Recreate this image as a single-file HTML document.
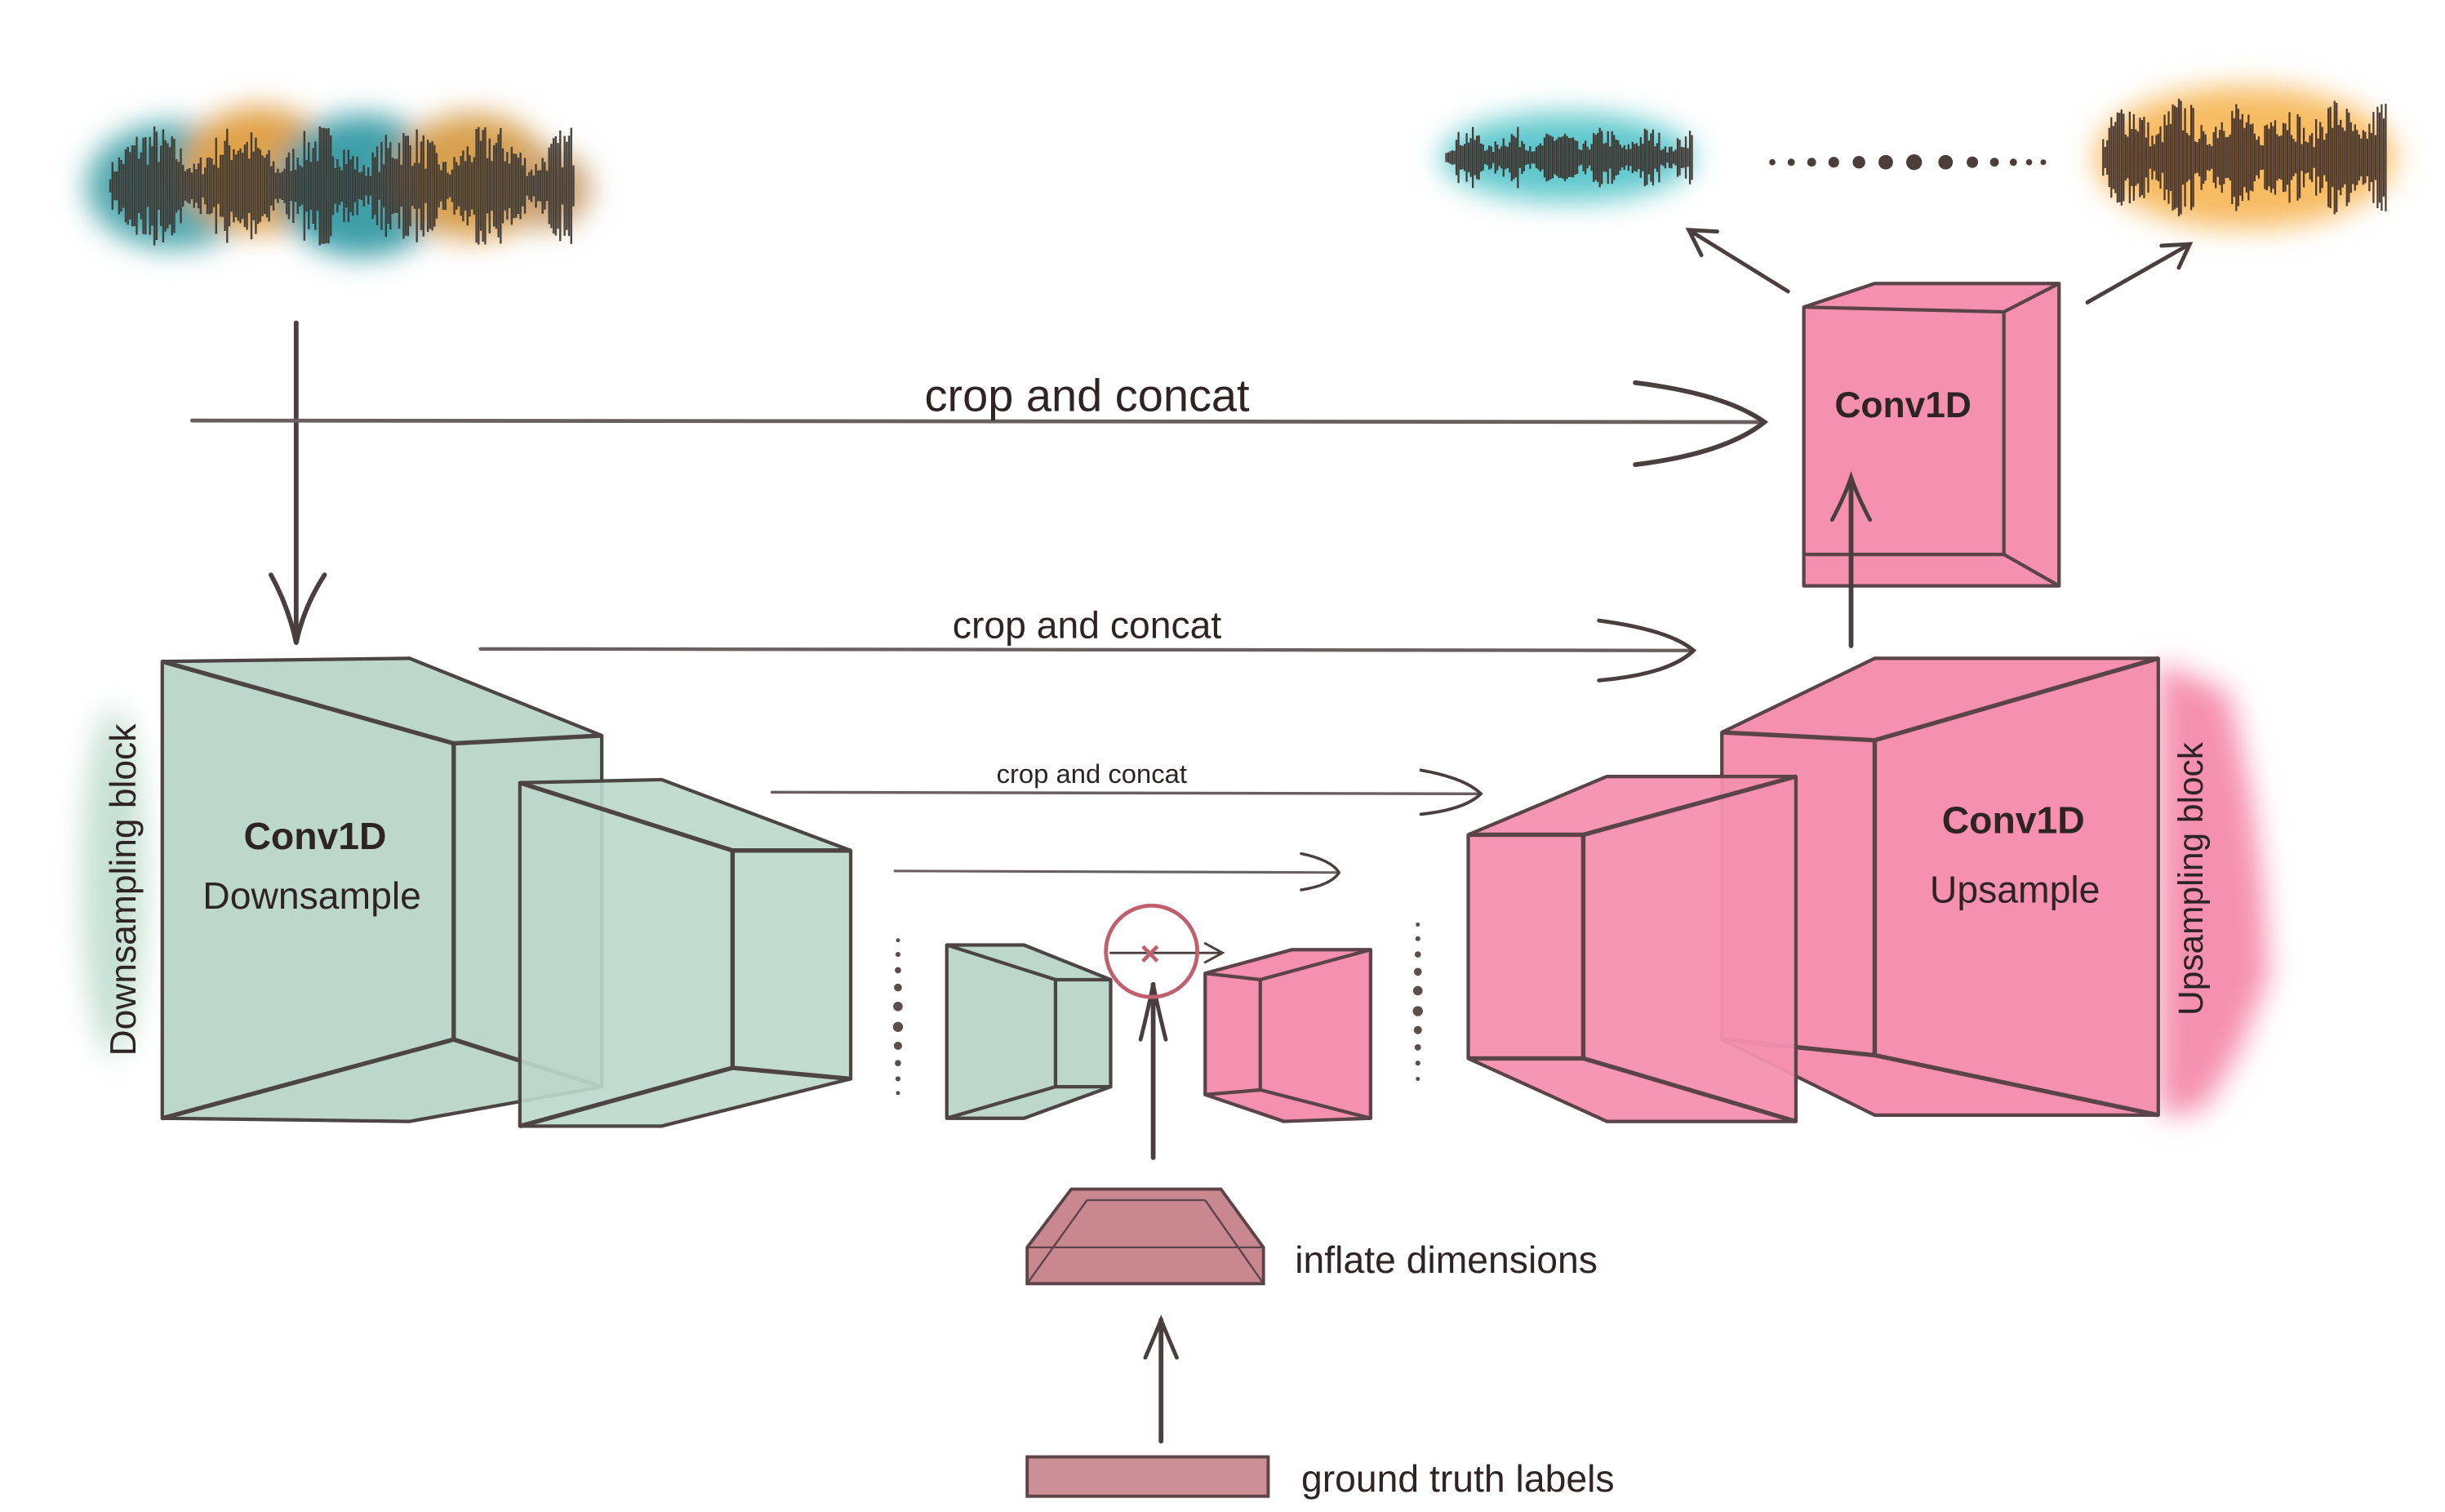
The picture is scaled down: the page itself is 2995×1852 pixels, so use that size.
<!DOCTYPE html>
<html><head><meta charset="utf-8"><style>
html,body{margin:0;padding:0;background:#fff;}
svg{display:block;}
text{font-family:"Liberation Sans",sans-serif;fill:#2e2424;}
</style></head><body>
<svg id="s" width="2995" height="1852" viewBox="0 0 1552 960" preserveAspectRatio="none" xmlns="http://www.w3.org/2000/svg">
<defs>
<filter id="b8" x="-30%" y="-50%" width="160%" height="200%"><feGaussianBlur stdDeviation="9"/></filter>
</defs>
<rect width="1552" height="960" fill="#fff"/>

<g filter="url(#b8)">
<ellipse cx="110" cy="118" rx="55" ry="40" fill="#4fa8ae"/>
<ellipse cx="165" cy="108" rx="50" ry="40" fill="#e0a24a"/>
<ellipse cx="230" cy="118" rx="55" ry="45" fill="#3d9fa8"/>
<ellipse cx="300" cy="112" rx="50" ry="40" fill="#d8a050"/>
<ellipse cx="345" cy="120" rx="30" ry="25" fill="#c9a070"/>
<ellipse cx="995" cy="100" rx="80" ry="28" fill="#5fc8cc"/>
<ellipse cx="1425" cy="100" rx="95" ry="45" fill="#f7bb62"/>
<path d="M1370 420 L1415 440 L1428 500 L1436 560 L1440 620 L1420 670 L1398 705 L1370 708Z" fill="#f590b0"/>
<ellipse cx="72" cy="560" rx="20" ry="110" fill="#c6e0d4"/>
</g>

<g id="waves" fill="none" stroke="#3a2a26" stroke-width="1.4" opacity="0.9"></g>

<g fill="#4a3d3a">
<circle cx="1125" cy="103" r="2"/><circle cx="1137" cy="103" r="2.3"/><circle cx="1150" cy="103" r="2.8"/><circle cx="1164" cy="103" r="3.4"/><circle cx="1180" cy="103" r="4"/><circle cx="1197" cy="103" r="4.6"/><circle cx="1215" cy="103" r="5"/><circle cx="1235" cy="103" r="4.6"/><circle cx="1252" cy="103" r="3.6"/><circle cx="1266" cy="103" r="2.8"/><circle cx="1278" cy="103" r="2.3"/><circle cx="1288" cy="103" r="2"/><circle cx="1297" cy="103" r="1.8"/>
</g>

<g fill="#5a4d4a">
<circle cx="570" cy="597" r="1.3"/><circle cx="570" cy="606" r="1.6"/><circle cx="570" cy="616" r="2"/><circle cx="570" cy="627" r="2.5"/><circle cx="570" cy="639" r="3"/><circle cx="570" cy="652" r="3.2"/><circle cx="570" cy="664" r="2.6"/><circle cx="570" cy="675" r="2"/><circle cx="570" cy="685" r="1.6"/><circle cx="570" cy="694" r="1.3"/>
<circle cx="900" cy="587" r="1.3"/><circle cx="900" cy="596" r="1.6"/><circle cx="900" cy="606" r="2"/><circle cx="900" cy="617" r="2.5"/><circle cx="900" cy="629" r="3"/><circle cx="900" cy="642" r="3.2"/><circle cx="900" cy="654" r="2.6"/><circle cx="900" cy="665" r="2"/><circle cx="900" cy="675" r="1.6"/><circle cx="900" cy="685" r="1.3"/>
</g>

<g stroke="#4d4444" stroke-width="2.2" fill="#bdd8cb" stroke-linejoin="round">
<path d="M103 420 L260 418 L382 467 L382 690 L260 712 L103 710Z"/>
<path d="M103 420 L288 472 L382 467 M288 472 L288 660 L382 690 M288 660 L103 710" fill="none" stroke-width="2.8"/>
<path d="M330 497 L420 495 L540 540 L540 685 L420 715 L330 715Z" fill-opacity="0.92"/>
<path d="M330 497 L465 540 L540 540 M465 540 L465 678 L540 685 M465 678 L330 715" fill="none" stroke-width="2.8"/>
<path d="M601 600 L650 600 L705 622 L705 690 L650 710 L601 710Z"/>
<path d="M601 600 L670 622 L705 622 M670 622 L670 690 L705 690 M670 690 L601 710" fill="none"/>
</g>
<g stroke="#5a4448" stroke-width="2.2" fill="#f590b0" stroke-linejoin="round">
<path d="M765 618 L820 603 L870 603 L870 710 L815 712 L765 695Z"/>
<path d="M870 603 L800 622 L765 618 M800 622 L800 692 L765 695 M800 692 L870 710" fill="none"/>
<path d="M1093 465 L1190 418 L1370 418 L1370 708 L1190 708 L1093 660Z"/>
<path d="M1370 418 L1190 470 L1093 465 M1190 470 L1190 670 L1093 660 M1190 670 L1370 708" fill="none" stroke-width="2.8"/>
<path d="M932 530 L1020 493 L1140 493 L1140 712 L1020 712 L932 672Z" fill-opacity="0.95"/>
<path d="M1140 493 L1005 530 L932 530 M1005 530 L1005 672 L932 672 M1005 672 L1140 712" fill="none" stroke-width="2.8"/>
<path d="M1145 195 L1190 180 L1307 180 L1307 372 L1145 372Z"/>
<path d="M1307 180 L1272 198 L1145 195 M1272 198 L1272 352 L1307 372 M1272 352 L1145 352" fill="none"/>
</g>
<g stroke="#5a4448" stroke-width="2" fill="#c98790">
<path d="M680 755 L775 755 L802 792 L802 815 L652 815 L652 792Z"/>
<path d="M690 762 L765 762 M652 792 L802 792 M652 815 L690 762 M802 815 L765 762" fill="none" stroke-width="1.2"/>
<rect x="652" y="925" width="153" height="25" fill="#cc8f97"/>
</g>

<g stroke="#4a3f3f" fill="none" stroke-linecap="round">
<line x1="188" y1="205" x2="188" y2="408" stroke-width="3"/>
<path d="M172 365 Q183 385 188 408 Q193 385 206 365" stroke-width="3"/>
<line x1="122" y1="267" x2="1120" y2="268" stroke-width="2.5" stroke="#6a5f5f"/>
<path d="M1038 243 Q1095 250 1120 268 Q1095 288 1038 295" stroke-width="3"/>
<line x1="305" y1="412" x2="1075" y2="413" stroke-width="2.2" stroke="#6a5f5f"/>
<path d="M1015 394 Q1060 400 1075 413 Q1060 428 1015 432" stroke-width="2.5"/>
<line x1="490" y1="503" x2="940" y2="504" stroke-width="1.8" stroke="#6a5f5f"/>
<path d="M902 489 Q930 494 940 504 Q930 514 902 517" stroke-width="2"/>
<line x1="568" y1="553" x2="850" y2="554" stroke-width="1.6" stroke="#6a5f5f"/>
<path d="M826 542 Q845 546 850 554 Q845 562 826 565" stroke-width="1.8"/>
<line x1="1175" y1="410" x2="1175" y2="305" stroke-width="3"/>
<path d="M1163 330 Q1171 315 1175 303 Q1179 315 1187 330" stroke-width="2.5"/>
<line x1="1135" y1="185" x2="1072" y2="146" stroke-width="2.5"/>
<path d="M1090 147 L1072 146 L1080 162" stroke-width="2.5"/>
<line x1="1325" y1="192" x2="1390" y2="155" stroke-width="2.5"/>
<path d="M1372 156 L1390 155 L1383 170" stroke-width="2.5"/>
<line x1="732" y1="735" x2="732" y2="625" stroke-width="3"/>
<path d="M724 660 Q729 640 732 625 Q735 640 740 660" stroke-width="2.5"/>
<line x1="737" y1="915" x2="737" y2="838" stroke-width="3"/>
<path d="M727 862 Q733 848 737 838 Q741 848 747 862" stroke-width="2.5"/>
<line x1="705" y1="605" x2="775" y2="605" stroke-width="1.5"/>
<path d="M765 599 L776 605 L765 611" stroke-width="1.5"/>
</g>
<circle cx="731" cy="604" r="29" stroke="#c0606e" stroke-width="2.5" fill="none"/>
<text x="730" y="613" font-size="22" text-anchor="middle" style="fill:#c0606e" font-weight="bold">×</text>

<text x="690" y="261" font-size="29" text-anchor="middle">crop and concat</text>
<text x="690" y="405" font-size="24" text-anchor="middle">crop and concat</text>
<text x="693" y="497" font-size="17" text-anchor="middle">crop and concat</text>
<text x="200" y="539" font-size="24" font-weight="bold" text-anchor="middle">Conv1D</text>
<text x="198" y="577" font-size="24" text-anchor="middle">Downsample</text>
<text x="1278" y="529" font-size="24" font-weight="bold" text-anchor="middle">Conv1D</text>
<text x="1279" y="573" font-size="24" text-anchor="middle">Upsample</text>
<text x="1208" y="265" font-size="23" font-weight="bold" text-anchor="middle">Conv1D</text>
<text transform="translate(86 565) rotate(-90)" font-size="23" text-anchor="middle">Downsampling block</text>
<text transform="translate(1398 558) rotate(-90)" font-size="22" text-anchor="middle">Upsampling block</text>
<text x="822" y="808" font-size="24">inflate dimensions</text>
<text x="826" y="947" font-size="24">ground truth labels</text>
</svg>
<script>
(function(){
var g=document.getElementById('waves');var seed=7;
function r(){seed=(seed*16807)%2147483647;return seed/2147483647;}
function wave(x0,x1,cy,amp,col,step){
 var d='';for(var x=x0;x<=x1;x+=step){
  var env=0.35+0.65*Math.abs(Math.sin((x-x0)/(x1-x0)*Math.PI*5.5));
  var h=amp*env*(0.3+0.7*r());d+='M'+x.toFixed(1)+' '+(cy-h).toFixed(1)+'V'+(cy+h).toFixed(1);}
 var p=document.createElementNS('http://www.w3.org/2000/svg','path');
 p.setAttribute('d',d);p.setAttribute('stroke',col);p.setAttribute('stroke-width',step*0.9);g.appendChild(p);
}
wave(70,365,118,40,'#3a3430',1.4);
wave(918,1075,100,20,'#3a2a26',1.3);
wave(1335,1515,100,40,'#3a2a26',1.3);
})();
</script>
</body></html>
